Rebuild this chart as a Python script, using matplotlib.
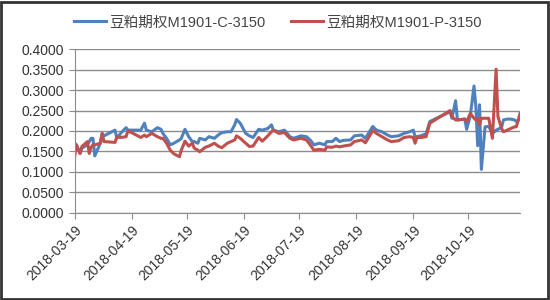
import matplotlib
matplotlib.use("Agg")
import matplotlib.pyplot as plt
import matplotlib.dates as mdates
from matplotlib.patches import Rectangle
import pandas as pd

plt.rcParams['font.family'] = ['Liberation Sans', 'Noto Sans CJK SC', 'DejaVu Sans']

# trading dates (approximate)
dates = [
    '2018-03-19', '2018-03-20', '2018-03-22', '2018-03-23', '2018-03-26', '2018-03-27',
    '2018-03-28', '2018-03-29', '2018-03-30', '2018-04-02', '2018-04-03', '2018-04-04',
    '2018-04-10', '2018-04-11', '2018-04-13', '2018-04-16', '2018-04-17', '2018-04-19',
    '2018-04-24', '2018-04-26', '2018-04-27', '2018-04-30', '2018-05-03', '2018-05-05',
    '2018-05-06', '2018-05-08', '2018-05-10', '2018-05-12', '2018-05-15', '2018-05-16',
    '2018-05-18', '2018-05-20', '2018-05-22', '2018-05-23', '2018-05-25', '2018-05-26',
    '2018-05-29', '2018-05-31', '2018-06-03', '2018-06-05', '2018-06-07', '2018-06-10',
    '2018-06-12', '2018-06-14', '2018-06-15', '2018-06-17', '2018-06-20', '2018-06-22',
    '2018-06-24', '2018-06-27', '2018-06-29', '2018-07-02', '2018-07-04', '2018-07-05',
    '2018-07-08', '2018-07-11', '2018-07-14', '2018-07-16', '2018-07-20', '2018-07-23',
    '2018-07-25', '2018-07-27', '2018-07-30', '2018-08-02', '2018-08-03', '2018-08-06',
    '2018-08-08', '2018-08-10', '2018-08-12', '2018-08-16', '2018-08-18', '2018-08-22',
    '2018-08-24', '2018-08-28', '2018-08-30', '2018-09-02', '2018-09-05', '2018-09-07',
    '2018-09-11', '2018-09-14', '2018-09-17', '2018-09-19', '2018-09-20', '2018-09-21',
    '2018-09-23', '2018-09-26', '2018-09-28', '2018-10-09', '2018-10-10', '2018-10-12',
    '2018-10-13', '2018-10-17', '2018-10-18', '2018-10-20', '2018-10-22', '2018-10-23',
    '2018-10-24', '2018-10-25', '2018-10-26', '2018-10-28', '2018-10-30', '2018-11-01',
    '2018-11-03', '2018-11-04', '2018-11-06', '2018-11-07', '2018-11-09', '2018-11-11',
    '2018-11-13', '2018-11-14', '2018-11-16',
]

call_c = [
    0.171, 0.166, 0.145, 0.158, 0.166, 0.174,
    0.182, 0.182, 0.139, 0.170, 0.194, 0.188,
    0.202, 0.182, 0.194, 0.208, 0.202, 0.202,
    0.202, 0.219, 0.202, 0.198, 0.208, 0.204,
    0.194, 0.182, 0.166, 0.170, 0.178, 0.182,
    0.204, 0.186, 0.174, 0.174, 0.170, 0.182,
    0.178, 0.186, 0.182, 0.190, 0.196, 0.198,
    0.198, 0.215, 0.228, 0.219, 0.194, 0.188,
    0.184, 0.204, 0.202, 0.206, 0.215, 0.202,
    0.198, 0.202, 0.186, 0.182, 0.188, 0.186,
    0.178, 0.166, 0.170, 0.166, 0.174, 0.174,
    0.182, 0.174, 0.177, 0.178, 0.188, 0.190,
    0.182, 0.211, 0.202, 0.198, 0.190, 0.186,
    0.188, 0.194, 0.198, 0.202, 0.186, 0.186,
    0.188, 0.193, 0.223, 0.247, 0.231, 0.274,
    0.227, 0.229, 0.204, 0.237, 0.310, 0.260,
    0.164, 0.264, 0.106, 0.210, 0.211, 0.194,
    0.202, 0.204, 0.209, 0.227, 0.229, 0.229,
    0.227, 0.223, 0.229,
]

put_p = [
    0.135, 0.166, 0.145, 0.162, 0.174, 0.145,
    0.160, 0.166, 0.166, 0.170, 0.194, 0.174,
    0.172, 0.186, 0.184, 0.186, 0.200, 0.196,
    0.184, 0.190, 0.186, 0.194, 0.186, 0.182,
    0.182, 0.170, 0.153, 0.144, 0.137, 0.153,
    0.175, 0.163, 0.170, 0.158, 0.153, 0.149,
    0.160, 0.163, 0.170, 0.163, 0.159, 0.170,
    0.174, 0.178, 0.188, 0.182, 0.170, 0.162,
    0.163, 0.184, 0.175, 0.188, 0.198, 0.202,
    0.194, 0.196, 0.182, 0.178, 0.182, 0.178,
    0.166, 0.153, 0.155, 0.153, 0.161, 0.160,
    0.163, 0.161, 0.163, 0.166, 0.174, 0.178,
    0.171, 0.201, 0.194, 0.186, 0.178, 0.174,
    0.176, 0.184, 0.186, 0.184, 0.170, 0.184,
    0.184, 0.186, 0.219, 0.250, 0.235, 0.227,
    0.227, 0.229, 0.223, 0.243, 0.231, 0.227,
    0.231, 0.215, 0.231, 0.231, 0.231, 0.182,
    0.351, 0.235, 0.206, 0.198, 0.202, 0.206,
    0.210, 0.210, 0.243,
]

labels = ['豆粕期权M1901-C-3150', '豆粕期权M1901-P-3150']
tick_dates = ['2018-03-19', '2018-04-19', '2018-05-19', '2018-06-19',
              '2018-07-19', '2018-08-19', '2018-09-19', '2018-10-19']
x = pd.to_datetime(dates)

fig = plt.figure(figsize=(5.5, 3), dpi=100)
ax = fig.add_axes([0.1355, 0.291, 0.81, 0.545])

ax.plot(x, call_c, color='#4F81BD', lw=2.2, label=labels[0])
ax.plot(x, put_p, color='#C0504D', lw=2.2, label=labels[1])

ax.set_ylim(0, 0.4)
ax.set_yticks([i * 0.05 for i in range(9)])
ax.yaxis.set_major_formatter(matplotlib.ticker.FormatStrFormatter('%.4f'))
ax.set_xlim(pd.Timestamp('2018-03-19'), pd.Timestamp('2018-11-16'))
ax.set_xticks(pd.to_datetime(tick_dates))
ax.xaxis.set_major_formatter(mdates.DateFormatter('%Y-%m-%d'))
plt.setp(ax.get_xticklabels(), rotation=45, ha='right', rotation_mode='anchor')

ax.grid(axis='y', color='#8c8c8c', lw=1)
ax.set_axisbelow(True)
for s in ['top', 'right']:
    ax.spines[s].set_visible(False)
for s in ['left', 'bottom']:
    ax.spines[s].set_color('#8c8c8c')
ax.tick_params(colors='#8c8c8c', labelcolor='#333333', labelsize=10, length=4)

fig.legend(loc='center', bbox_to_anchor=(0.505, 0.925), ncol=2, frameon=False,
           fontsize=10.5, handlelength=2.2, columnspacing=1.8, handletextpad=0.2,
           labelcolor='#444444')

fig.patches.append(Rectangle((0.002, 0.004), 0.994, 0.991, transform=fig.transFigure,
                             fill=False, edgecolor='#333333', lw=2))

fig.savefig('out.png', dpi=100)
